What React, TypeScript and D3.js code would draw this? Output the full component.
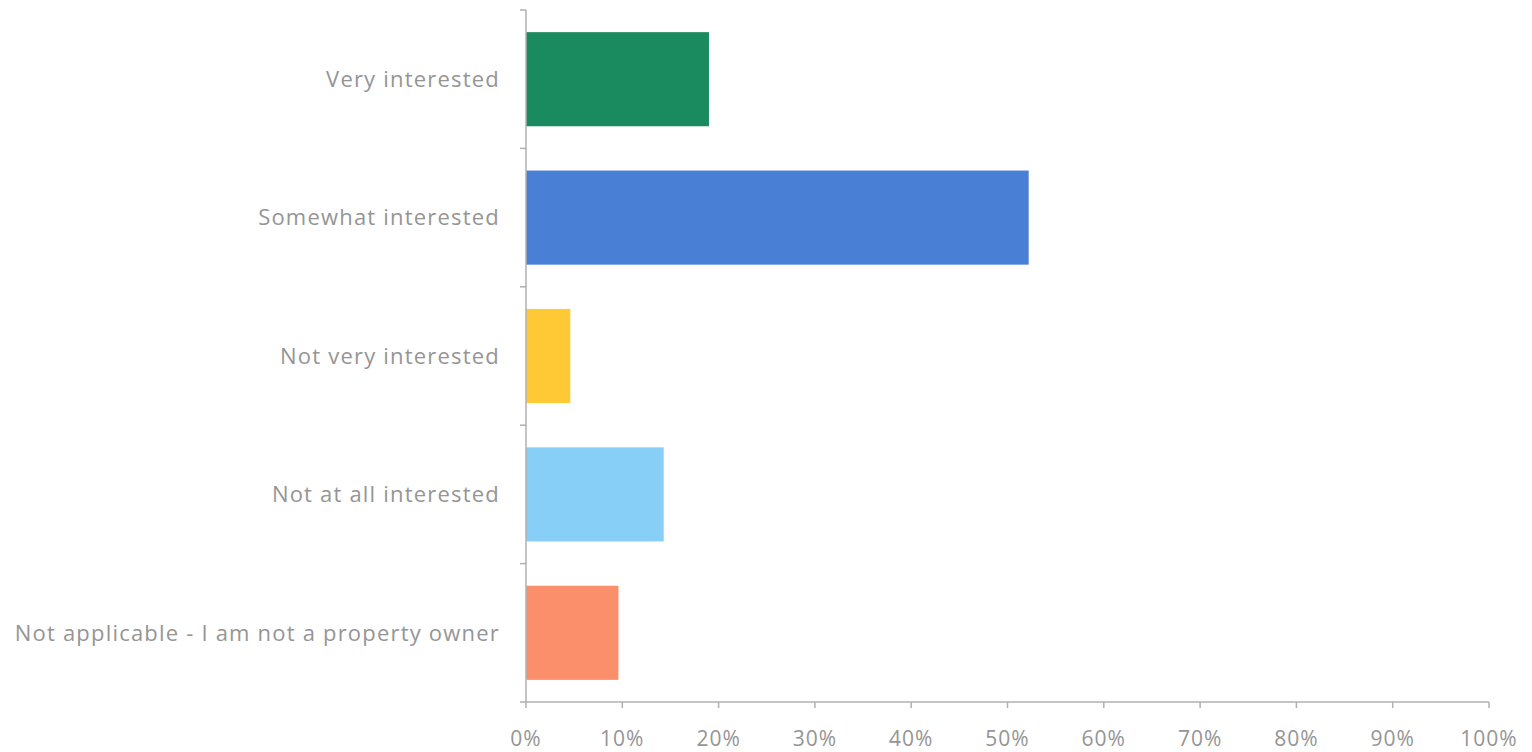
import React from "react";
import * as d3 from "d3";

const categories = [
  "Very interested",
  "Somewhat interested",
  "Not very interested",
  "Not at all interested",
  "Not applicable - I am not a property owner",
];
const values = [0.19, 0.522, 0.046, 0.143, 0.096];
const colors = ["#1a8a5f", "#4a7fd6", "#ffc935", "#87cff6", "#fb8f6c"];
const xTicks = [0, 0.1, 0.2, 0.3, 0.4, 0.5, 0.6, 0.7, 0.8, 0.9, 1.0];

const W = 1532;
const H = 752;
const left = 526;
const right = 1489;
const top = 10;
const bottom = 702;

export default function App() {
  const x = d3.scaleLinear().domain([0, 1]).range([left, right]);
  const y = d3
    .scaleBand<string>()
    .domain(categories)
    .range([top, bottom])
    .paddingInner(0.32)
    .paddingOuter(0.16);
  const step = y.step();
  const bounds = d3.range(categories.length + 1).map((i) => top + i * step);
  const axisColor = "#b0b0b0";
  const textColor = "#959595";
  const font = "'Open Sans', 'DejaVu Sans', sans-serif";
  const fmt = d3.format(".0%");

  return (
    <svg
      width={W}
      height={H}
      style={{ position: "absolute", left: 0, top: 0, background: "#fff" }}
    >
      {categories.map((c, i) => (
        <rect
          key={c}
          x={x(0)}
          y={y(c)!}
          width={x(values[i]) - x(0)}
          height={y.bandwidth()}
          fill={colors[i]}
        />
      ))}
      <line x1={left} x2={left} y1={top} y2={bottom} stroke={axisColor} strokeWidth={1.5} />
      {bounds.map((b, i) => (
        <line key={i} x1={left - 6} x2={left} y1={b} y2={b} stroke={axisColor} strokeWidth={1.5} />
      ))}
      <line x1={left} x2={right} y1={bottom} y2={bottom} stroke={axisColor} strokeWidth={1.5} />
      {xTicks.map((t) => (
        <g key={t}>
          <line x1={x(t)} x2={x(t)} y1={bottom} y2={bottom + 6} stroke={axisColor} strokeWidth={1.5} />
          <text
            x={x(t)}
            y={746}
            textAnchor="middle"
            fontFamily={font}
            fontSize={21}
            letterSpacing={1}
            fill={textColor}
          >
            {fmt(t)}
          </text>
        </g>
      ))}
      {categories.map((c) => (
        <text
          key={c}
          x={500}
          y={y(c)! + y.bandwidth() / 2}
          dy="0.35em"
          textAnchor="end"
          fontFamily={font}
          fontSize={22}
          letterSpacing={1.2}
          fill={textColor}
        >
          {c}
        </text>
      ))}
    </svg>
  );
}
